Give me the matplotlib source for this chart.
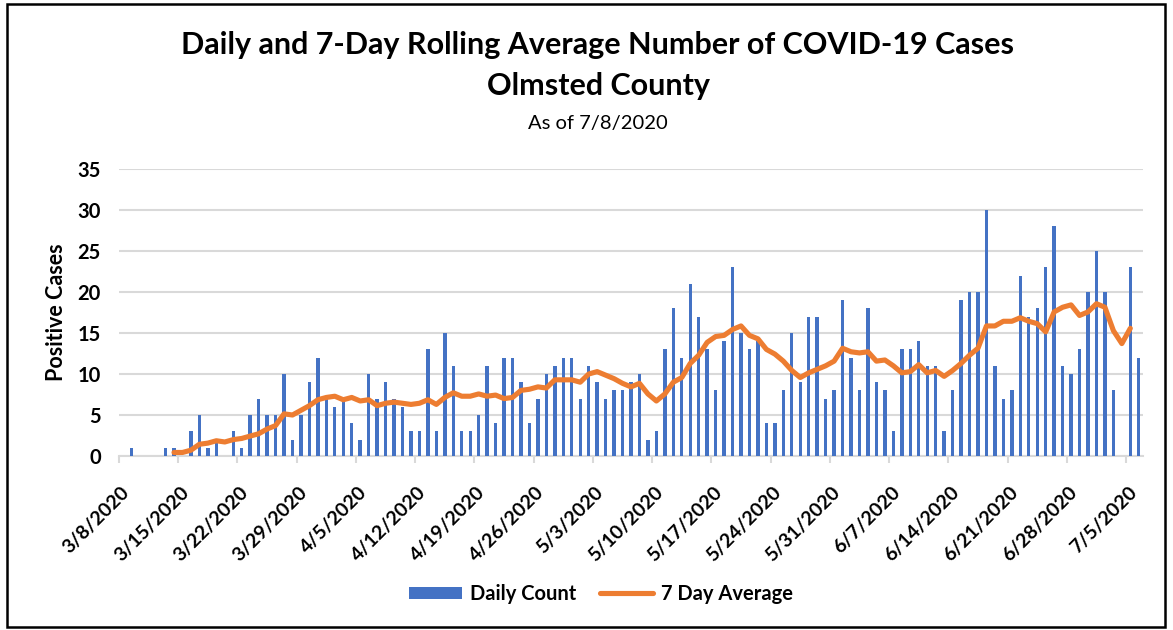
import matplotlib
matplotlib.use("Agg")
import matplotlib.pyplot as plt
from matplotlib.patches import Rectangle
from matplotlib.transforms import ScaledTranslation
import numpy as np

# Day index 0 = 3/8/2020 ... 120 = 7/6/2020
days = list(range(121))

daily_count = [
    0, 1, 0, 0, 0, 1, 1, 0, 3, 5,
    1, 2, 0, 3, 1, 5, 7, 5, 5, 10,
    2, 5, 9, 12, 7, 6, 7, 4, 2, 10,
    7, 9, 7, 6, 3, 3, 13, 3, 15, 11,
    3, 3, 5, 11, 4, 12, 12, 9, 4, 7,
    10, 11, 12, 12, 7, 11, 9, 7, 8, 8,
    9, 10, 2, 3, 13, 18, 12, 21, 17, 13,
    8, 14, 23, 15, 13, 14, 4, 4, 8, 15,
    9, 17, 17, 7, 8, 19, 12, 8, 18, 9,
    8, 3, 13, 13, 14, 11, 11, 3, 8, 19,
    20, 20, 30, 11, 7, 8, 22, 17, 18, 23,
    28, 11, 10, 13, 20, 25, 20, 8, 0, 23,
    12,
]

# 7-day average, starting at day index 6 (3/14/2020), ending at day 119
avg_start_day = 6
seven_day_avg = [
    0.43, 0.43, 0.71, 1.43, 1.57, 1.86, 1.71, 2.00, 2.14, 2.43,
    2.71, 3.29, 3.71, 5.14, 5.00, 5.57, 6.14, 6.86, 7.14, 7.29,
    6.86, 7.14, 6.71, 6.86, 6.14, 6.43, 6.57, 6.43, 6.29, 6.43,
    6.86, 6.29, 7.14, 7.71, 7.29, 7.29, 7.57, 7.29, 7.43, 7.00,
    7.14, 8.00, 8.14, 8.43, 8.29, 9.29, 9.29, 9.29, 9.00, 10.00,
    10.29, 9.86, 9.43, 8.86, 8.43, 8.86, 7.57, 6.71, 7.57, 9.00,
    9.57, 11.29, 12.29, 13.86, 14.57, 14.71, 15.43, 15.86, 14.71, 14.29,
    13.00, 12.43, 11.57, 10.43, 9.57, 10.14, 10.57, 11.00, 11.57, 13.14,
    12.71, 12.57, 12.71, 11.57, 11.71, 11.00, 10.14, 10.29, 11.14, 10.14,
    10.43, 9.71, 10.43, 11.29, 12.29, 13.14, 15.86, 15.86, 16.43, 16.43,
    16.86, 16.43, 16.14, 15.14, 17.57, 18.14, 18.43, 17.14, 17.57, 18.57,
    18.14, 15.29, 13.71, 15.57,
]

tick_labels = [
    "3/8/2020", "3/15/2020", "3/22/2020", "3/29/2020", "4/5/2020",
    "4/12/2020", "4/19/2020", "4/26/2020", "5/3/2020", "5/10/2020",
    "5/17/2020", "5/24/2020", "5/31/2020", "6/7/2020", "6/14/2020",
    "6/21/2020", "6/28/2020", "7/5/2020",
]
y_ticks = [0, 5, 10, 15, 20, 25, 30, 35]

plt.rcParams["font.family"] = ["Lato", "DejaVu Sans"]

W, H = 1173, 630
fig = plt.figure(figsize=(W / 100, H / 100), dpi=100)
ax = fig.add_axes([119 / W, 1 - 456 / H, (1143 - 119) / W, (456 - 169) / H])

bar_color = "#4472C4"
line_color = "#ED7D31"

ax.bar(days, daily_count, width=0.4, color=bar_color, label="Daily Count", zorder=2)
avg_x = days[avg_start_day:avg_start_day + len(seven_day_avg)]
ax.plot(avg_x, seven_day_avg, color=line_color, lw=3.7, label="7 Day Average",
        zorder=3, solid_capstyle="round", solid_joinstyle="round")

ax.set_xlim(-0.5, 120.5)
ax.set_ylim(0, 35)
ax.set_yticks(y_ticks)
ax.set_yticklabels([str(v) for v in y_ticks], fontsize=14.5, fontweight="bold")
ax.yaxis.grid(True, color="#d9d9d9", lw=1.5)
ax.set_axisbelow(True)
for s in ["top", "right", "left"]:
    ax.spines[s].set_visible(False)
ax.spines["bottom"].set_color("#d9d9d9")
ax.spines["bottom"].set_linewidth(1.5)
ax.spines["bottom"].set_zorder(1)

tick_pos = np.arange(len(tick_labels)) * 7 - 0.5
ax.set_xticks(tick_pos)
ax.set_xticklabels(tick_labels, rotation=45, ha="right", va="top",
                   rotation_mode="anchor", fontsize=14, fontweight="bold")
ax.tick_params(axis="x", length=5, color="#d9d9d9", width=1.5, pad=15)
ax.tick_params(axis="y", length=0, pad=13)
shift = ScaledTranslation(2 / 100, 0, fig.dpi_scale_trans)
for lbl in ax.get_xticklabels():
    lbl.set_transform(lbl.get_transform() + shift)

fig.text(57 / W, 1 - 312 / H, "Positive Cases", rotation=90, ha="center",
         va="center", fontsize=15.5, fontweight="bold")

fig.text(0.509, 1 - 45 / H, "Daily and 7-Day Rolling Average Number of COVID-19 Cases",
         ha="center", va="center", fontsize=22, fontweight="bold")
fig.text(0.510, 1 - 86 / H, "Olmsted County", ha="center", va="center",
         fontsize=22, fontweight="bold")
fig.text(0.510, 1 - 123 / H, "As of 7/8/2020", ha="center", va="center", fontsize=14.5)

handles, labels = ax.get_legend_handles_labels()
order = [labels.index("Daily Count"), labels.index("7 Day Average")]
leg = fig.legend([handles[i] for i in order], [labels[i] for i in order],
                 loc="center", bbox_to_anchor=(601 / W, 1 - 594 / H),
                 ncol=2, frameon=False, prop={"size": 14.5, "weight": "bold"},
                 handlelength=2.6, handleheight=0.55, handletextpad=0.4, columnspacing=1.2)

fig.add_artist(Rectangle((7 / W, 3 / H), (1165 - 7) / W, (626 - 3) / H,
                         transform=fig.transFigure, fill=False, ec="black", lw=1.8))

fig.savefig("out.png", dpi=100)
